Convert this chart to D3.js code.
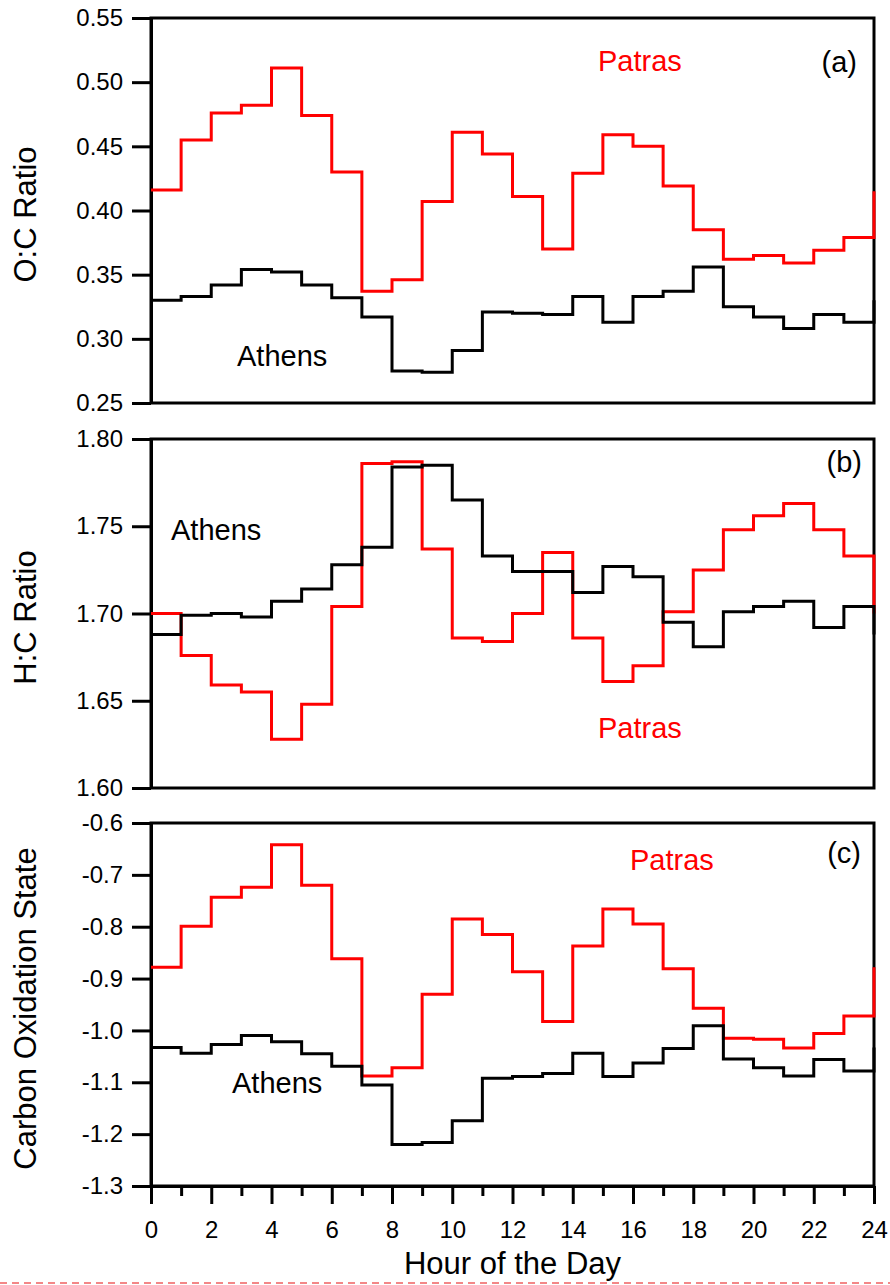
<!DOCTYPE html>
<html>
<head>
<meta charset="utf-8">
<script src="https://cdn.jsdelivr.net/npm/d3@7"></script>
<style>
  body { margin: 0; background: #fff; }
  text { font-family: "Liberation Sans", Arial, sans-serif; }
</style>
</head>
<body>
<div id="chart"></div>
<script>
// hours of the day (last point closes the step at 24h)
var hours = [0, 1, 2, 3, 4, 5, 6, 7, 8, 9, 10, 11, 12, 13, 14, 15, 16, 17, 18, 19, 20, 21, 22, 23, 24];
var hourTicks = [0, 2, 4, 6, 8, 10, 12, 14, 16, 18, 20, 22, 24];
var hourMinor = [1, 3, 5, 7, 9, 11, 13, 15, 17, 19, 21, 23];

// (a) O:C ratio
var ocPatras = [0.416, 0.455, 0.476, 0.482, 0.511, 0.474, 0.430, 0.337, 0.346, 0.407, 0.461, 0.444, 0.411,
                0.370, 0.429, 0.459, 0.450, 0.419, 0.385, 0.362, 0.365, 0.359, 0.369, 0.379, 0.415];
var ocAthens = [0.330, 0.333, 0.342, 0.354, 0.352, 0.342, 0.332, 0.317, 0.275, 0.274, 0.291, 0.321, 0.320,
                0.319, 0.333, 0.313, 0.333, 0.337, 0.356, 0.325, 0.317, 0.308, 0.319, 0.313, 0.330];
var ocTicks = [0.25, 0.30, 0.35, 0.40, 0.45, 0.50, 0.55];

// (b) H:C ratio
var hcPatras = [1.700, 1.676, 1.659, 1.655, 1.628, 1.648, 1.704, 1.786, 1.787, 1.737, 1.686, 1.684, 1.700,
                1.735, 1.686, 1.661, 1.670, 1.701, 1.725, 1.748, 1.756, 1.763, 1.748, 1.733, 1.700];
var hcAthens = [1.688, 1.699, 1.700, 1.698, 1.707, 1.714, 1.728, 1.738, 1.784, 1.785, 1.765, 1.733, 1.724,
                1.724, 1.712, 1.727, 1.721, 1.695, 1.681, 1.701, 1.704, 1.707, 1.692, 1.704, 1.688];
var hcTicks = [1.60, 1.65, 1.70, 1.75, 1.80];

// (c) carbon oxidation state
var osPatras = [-0.878, -0.799, -0.743, -0.724, -0.642, -0.720, -0.862, -1.088, -1.072, -0.930, -0.785, -0.815, -0.887,
                -0.983, -0.837, -0.766, -0.795, -0.881, -0.957, -1.015, -1.017, -1.034, -1.006, -0.972, -0.878];
var osAthens = [-1.033, -1.044, -1.027, -1.010, -1.022, -1.045, -1.069, -1.105, -1.220, -1.216, -1.174, -1.092, -1.089,
                -1.083, -1.044, -1.089, -1.063, -1.035, -0.991, -1.055, -1.072, -1.088, -1.056, -1.078, -1.033];
var osTicks = [-1.3, -1.2, -1.1, -1.0, -0.9, -0.8, -0.7, -0.6];

var W = 890, H = 1285;
var left = 151, right = 874;

var svg = d3.select("#chart")
  .append("svg")
    .attr("width", W)
    .attr("height", H);

var x = d3.scaleLinear().domain([0, 24]).range([left, right]);

// layout of the three stacked panels
var panels = [
  {top: 18, bottom: 403, domain: [0.25, 0.55], ticks: ocTicks, digits: 2, title: "O:C Ratio",
   patras: ocPatras, athens: ocAthens, tag: "(a)", tagPos: [857, 72],
   patrasPos: [598, 71], athensPos: [237, 366]},
  {top: 439, bottom: 788, domain: [1.60, 1.80], ticks: hcTicks, digits: 2, title: "H:C Ratio",
   patras: hcPatras, athens: hcAthens, tag: "(b)", tagPos: [862, 472],
   patrasPos: [598, 738], athensPos: [171, 540]},
  {top: 823, bottom: 1186, domain: [-1.3, -0.6], ticks: osTicks, digits: 1, title: "Carbon Oxidation State",
   patras: osPatras, athens: osAthens, tag: "(c)", tagPos: [861, 863],
   patrasPos: [630, 870], athensPos: [232, 1093]}
];

panels.forEach(function(p, i) {
  var y = d3.scaleLinear().domain(p.domain).range([p.bottom, p.top]);
  var g = svg.append("g");

  // frame
  g.append("rect")
    .attr("x", left)
    .attr("y", p.top)
    .attr("width", right - left)
    .attr("height", p.bottom - p.top)
    .attr("fill", "none")
    .attr("stroke", "#000")
    .attr("stroke-width", 3);

  // y axis
  var ya = g.append("g")
    .attr("transform", "translate(" + left + ",0)")
    .call(d3.axisLeft(y)
      .tickValues(p.ticks)
      .tickSize(19)
      .tickSizeOuter(0)
      .tickPadding(9)
      .tickFormat(function(d) { return d.toFixed(p.digits); }));
  ya.selectAll("path, line").attr("stroke", "#000").attr("stroke-width", 3);
  ya.selectAll("text")
    .style("font-size", "24px")
    .attr("fill", "#000");

  // y title
  g.append("text")
    .attr("transform", "translate(36," + ((p.top + p.bottom) / 2 + 4) + ") rotate(-90)")
    .attr("text-anchor", "middle")
    .style("font-size", "31px")
    .text(p.title);

  // x axis only on the last panel
  if (i === panels.length - 1) {
    var xa = g.append("g")
      .attr("transform", "translate(0," + p.bottom + ")")
      .call(d3.axisBottom(x)
        .tickValues(hourTicks)
        .tickSize(18)
        .tickSizeOuter(0)
        .tickPadding(17));
    xa.selectAll("path, line").attr("stroke", "#000").attr("stroke-width", 3);
    xa.selectAll("text").style("font-size", "24px").attr("fill", "#000");

    var xm = g.append("g")
      .attr("transform", "translate(0," + p.bottom + ")")
      .call(d3.axisBottom(x)
        .tickValues(hourMinor)
        .tickSize(10)
        .tickSizeOuter(0)
        .tickFormat(""));
    xm.select(".domain").remove();
    xm.selectAll("line").attr("stroke", "#000").attr("stroke-width", 3);

    g.append("text")
      .attr("x", (left + right) / 2)
      .attr("y", 1274)
      .attr("text-anchor", "middle")
      .style("font-size", "31px")
      .text("Hour of the Day");
  }

  var line = d3.line()
    .x(function(d, k) { return x(hours[k]); })
    .y(function(d) { return y(d); })
    .curve(d3.curveStepAfter);

  g.append("path")
    .datum(p.patras)
    .attr("d", line)
    .attr("fill", "none")
    .attr("stroke", "#ff0000")
    .attr("stroke-width", 3);

  g.append("path")
    .datum(p.athens)
    .attr("d", line)
    .attr("fill", "none")
    .attr("stroke", "#000")
    .attr("stroke-width", 3);

  g.append("text")
    .attr("x", p.patrasPos[0])
    .attr("y", p.patrasPos[1])
    .attr("fill", "#ff0000")
    .style("font-size", "29px")
    .text("Patras");

  g.append("text")
    .attr("x", p.athensPos[0])
    .attr("y", p.athensPos[1])
    .attr("fill", "#000")
    .style("font-size", "29px")
    .text("Athens");

  g.append("text")
    .attr("x", p.tagPos[0])
    .attr("y", p.tagPos[1])
    .attr("text-anchor", "end")
    .style("font-size", "29px")
    .text(p.tag);
});

// dashed border remnant along the bottom edge
svg.append("line")
  .attr("x1", 0).attr("x2", W)
  .attr("y1", 1283).attr("y2", 1283)
  .attr("stroke", "#f06060")
  .attr("stroke-width", 1.5)
  .attr("stroke-dasharray", "7,5");
</script>
</body>
</html>
